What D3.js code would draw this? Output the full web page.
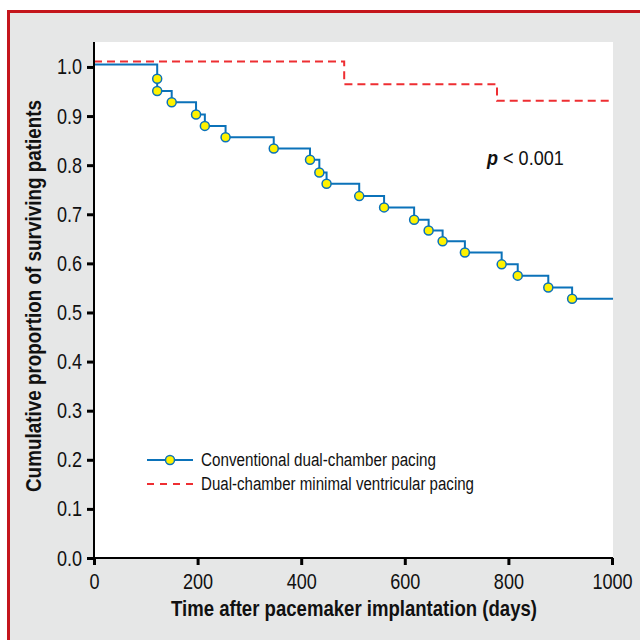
<!DOCTYPE html>
<meta charset="utf-8">
<style>
    body { margin: 0; background: #fff; }
    text { font-family: "Liberation Sans", Arial, sans-serif; fill: #111; }
    .axis path, .axis line { stroke: #000; }
</style>
<svg width="640" height="640"></svg>
<script src="https://d3js.org/d3.v7.min.js"></script>
<script>
    // conventional dual-chamber pacing (step points: days, proportion)
    var convDays = [0, 122, 122, 150, 197, 214, 254, 347, 417, 435, 449, 512, 560, 618, 646, 673, 716, 787, 818, 877, 923];
    var convSurv = [1.005, 0.976, 0.951, 0.928, 0.903, 0.880, 0.857, 0.834, 0.811, 0.785, 0.762, 0.737, 0.714, 0.689, 0.667, 0.645, 0.622, 0.598, 0.575, 0.551, 0.528];
    // minimal ventricular pacing
    var mvpDays = [0, 483, 778];
    var mvpSurv = [1.011, 0.965, 0.931];
    var endDay = 1002;

    var xTicks = [0, 200, 400, 600, 800, 1000];
    var yTicks = [0, 0.1, 0.2, 0.3, 0.4, 0.5, 0.6, 0.7, 0.8, 0.9, 1.0];

    var legendLabels = ["Conventional dual-chamber pacing", "Dual-chamber minimal ventricular pacing"];

    var blue = "#0b72b9", red = "#ee2e32", yellow = "#fff200";

    // no narrow font installed, so squeeze the glyphs
    function narrow(sel, f) {
        sel.each(function() {
            var w = this.getComputedTextLength();
            d3.select(this).attr("textLength", w * f).attr("lengthAdjust", "spacingAndGlyphs");
        });
    }

    var svg = d3.select("svg");

    // frame
    svg.append("rect")
        .attr("x", 8.5).attr("y", 11.5)
        .attr("width", 640).attr("height", 640)
        .attr("fill", "#e6e7e7")
        .attr("stroke", "#c4161c")
        .attr("stroke-width", 3);

    var x = d3.scaleLinear().domain([0, 1000]).range([94, 612]);
    var y = d3.scaleLinear().domain([0, 1.05]).range([558, 42.4]);

    svg.append("rect")
        .attr("x", 94).attr("y", 42)
        .attr("width", 613 - 94).attr("height", 558 - 42)
        .attr("fill", "#fff");

    var line = d3.line()
        .x(function(d) { return x(d[0]); })
        .y(function(d) { return y(d[1]); })
        .curve(d3.curveStepAfter);

    var conv = convDays.map(function(d, i) { return [d, convSurv[i]]; });
    var mvp = mvpDays.map(function(d, i) { return [d, mvpSurv[i]]; });

    svg.append("path")
        .attr("d", line(mvp.concat([[endDay, mvpSurv[mvpSurv.length - 1]]])))
        .attr("fill", "none")
        .attr("stroke", red)
        .attr("stroke-width", 2)
        .attr("stroke-dasharray", "8,5");

    svg.append("path")
        .attr("d", line(conv.concat([[endDay, convSurv[convSurv.length - 1]]])))
        .attr("fill", "none")
        .attr("stroke", blue)
        .attr("stroke-width", 2);

    svg.append("g")
        .selectAll("circle")
        .data(conv.slice(1))
        .enter().append("circle")
        .attr("cx", function(d) { return x(d[0]); })
        .attr("cy", function(d) { return y(d[1]); })
        .attr("r", 4.5)
        .attr("fill", yellow)
        .attr("stroke", blue)
        .attr("stroke-width", 1.5);

    // axes
    var xAxis = svg.append("g")
        .attr("class", "axis")
        .attr("transform", "translate(0,558)")
        .call(d3.axisBottom(x).tickValues(xTicks).tickSize(7).tickSizeOuter(0).tickPadding(8).tickFormat(d3.format("d")));
    xAxis.select(".domain").attr("stroke-width", 2).attr("d", "M87,0H613");
    xAxis.selectAll(".tick line").attr("stroke-width", 3);
    xAxis.selectAll(".tick text").attr("font-size", 22).attr("fill", "#111")
        .attr("font-family", "Liberation Sans, Arial, sans-serif")
        .call(narrow, 0.82);

    var yAxis = svg.append("g")
        .attr("class", "axis")
        .attr("transform", "translate(94,0)")
        .call(d3.axisLeft(y).tickValues(yTicks).tickSize(7).tickSizeOuter(0).tickPadding(5).tickFormat(d3.format(".1f")));
    yAxis.select(".domain").attr("stroke-width", 2).attr("d", "M0,42V565");
    yAxis.selectAll(".tick line").attr("stroke-width", 3);
    yAxis.selectAll(".tick text").attr("font-size", 22).attr("fill", "#111")
        .attr("font-family", "Liberation Sans, Arial, sans-serif")
        .call(narrow, 0.82);

    // titles
    svg.append("text")
        .attr("x", 354).attr("y", 616)
        .attr("text-anchor", "middle")
        .attr("font-size", 22).attr("font-weight", "bold")
        .attr("textLength", 366).attr("lengthAdjust", "spacingAndGlyphs")
        .text("Time after pacemaker implantation (days)");

    svg.append("text")
        .attr("transform", "translate(41,296) rotate(-90)")
        .attr("text-anchor", "middle")
        .attr("font-size", 22).attr("font-weight", "bold")
        .attr("textLength", 392).attr("lengthAdjust", "spacingAndGlyphs")
        .text("Cumulative proportion of surviving patients");

    var p = svg.append("text")
        .attr("transform", "translate(487,165) scale(0.86,1)")
        .attr("font-size", 21);
    p.append("tspan").attr("font-weight", "bold").attr("font-style", "italic").text("p");
    p.append("tspan").text(" < 0.001");

    // legend
    var lg = svg.append("g");
    lg.append("line").attr("x1", 147).attr("x2", 193).attr("y1", 460).attr("y2", 460)
        .attr("stroke", blue).attr("stroke-width", 2);
    lg.append("circle").attr("cx", 170).attr("cy", 460).attr("r", 4.5)
        .attr("fill", yellow).attr("stroke", blue).attr("stroke-width", 1.5);
    lg.append("line").attr("x1", 147).attr("x2", 193).attr("y1", 484).attr("y2", 484)
        .attr("stroke", red).attr("stroke-width", 2).attr("stroke-dasharray", "7,6");
    lg.selectAll("text")
        .data(legendLabels)
        .enter().append("text")
        .attr("x", 201)
        .attr("y", function(d, i) { return 466 + i * 24; })
        .attr("font-size", 18)
        .attr("textLength", function(d, i) { return [235, 273][i]; })
        .attr("lengthAdjust", "spacingAndGlyphs")
        .text(function(d) { return d; });
</script>
